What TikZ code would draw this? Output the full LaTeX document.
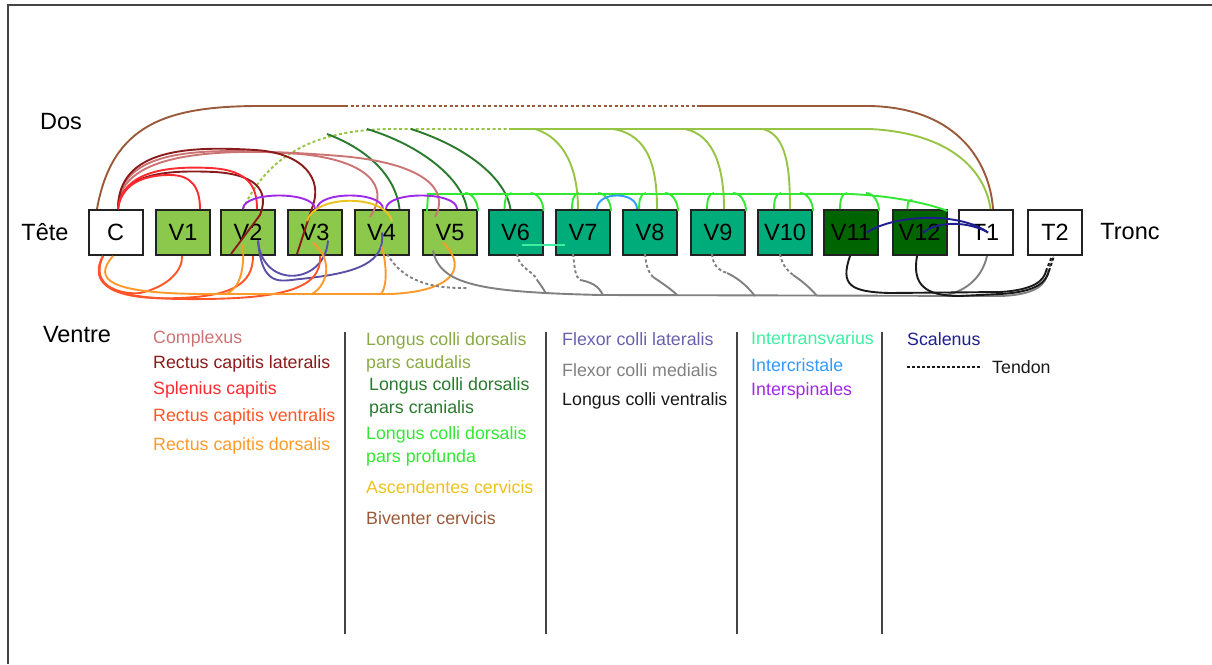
\documentclass[tikz,border=0pt]{standalone}
\usepackage{fontspec}
\setmainfont{Liberation Sans}
\usetikzlibrary{calc}
\definecolor{boxline}{HTML}{222222}
\definecolor{fillA}{HTML}{8CC84B}
\definecolor{fillB}{HTML}{00AD7A}
\definecolor{fillC}{HTML}{006400}
\definecolor{cBiv}{HTML}{9A5A3A}
\definecolor{cCau}{HTML}{96C444}
\definecolor{cCauT}{HTML}{8AAA44}
\definecolor{cCra}{HTML}{2A7A2E}
\definecolor{cPro}{HTML}{33E833}
\definecolor{cCpx}{HTML}{CC7474}
\definecolor{cLat}{HTML}{8B1A1A}
\definecolor{cSpl}{HTML}{FF2A30}
\definecolor{cVen}{HTML}{FF5528}
\definecolor{cDor}{HTML}{FF9A2A}
\definecolor{cIsp}{HTML}{A028E8}
\definecolor{cAsc}{HTML}{EEC21C}
\definecolor{cIcr}{HTML}{3399FF}
\definecolor{cItr}{HTML}{3CF0A0}
\definecolor{cSca}{HTML}{1E1E90}
\definecolor{cFlx}{HTML}{5A50A8}
\definecolor{cFlxT}{HTML}{6A60B0}
\definecolor{cMed}{HTML}{808080}
\definecolor{cLcv}{HTML}{1A1A1A}
\definecolor{frameC}{HTML}{444444}
\begin{document}
\begin{tikzpicture}[x=1pt,y=-1pt,
  bx/.style={draw=boxline, line width=2pt, minimum width=54pt, minimum height=45pt, inner sep=0pt, font=\fontsize{23.5}{28}\selectfont},
  big/.style={font=\fontsize{23.5}{28}\selectfont, inner sep=0pt},
  leg/.style={font=\fontsize{17.8}{21}\selectfont, anchor=west, inner sep=0pt},
  mus/.style={line width=1.9pt},
  tend/.style={dash pattern=on 3pt off 2.5pt},
  biv/.style={mus, draw=cBiv},
  cau/.style={mus, draw=cCau},
  cra/.style={mus, draw=cCra},
  pro/.style={mus, draw=cPro},
  cpx/.style={mus, draw=cCpx},
  lat/.style={mus, draw=cLat},
  spl/.style={mus, draw=cSpl},
  ven/.style={mus, draw=cVen},
  dor/.style={mus, draw=cDor},
  isp/.style={mus, draw=cIsp},
  asc/.style={mus, draw=cAsc},
  icr/.style={mus, draw=cIcr},
  itr/.style={mus, draw=cItr},
  sca/.style={mus, draw=cSca},
  flx/.style={mus, draw=cFlx},
  med/.style={mus, draw=cMed},
  lcv/.style={mus, draw=cLcv},
  sep/.style={line width=2pt, draw=frameC},
]
\useasboundingbox (0,0) rectangle (1212,664);
\draw[line width=2.5pt, draw=frameC] (8,664) -- (8,5) -- (1212,5);

% labels
\node[big] (dos) at (61,122) {Dos};
\node[big] (tete) at (45,232) {Tête};
\node[big] (tronc) at (1130,232) {Tronc};
\node[big] (ventre) at (77,335) {Ventre};

% boxes
\node[bx, fill=white] (C) at (115.5,232.5) {C};
\node[bx, fill=fillA] (V1) at (183,232.5) {V1};
\node[bx, fill=fillA] (V2) at (248,232.5) {V2};
\node[bx, fill=fillA] (V3) at (315,232.5) {V3};
\node[bx, fill=fillA] (V4) at (381.5,232.5) {V4};
\node[bx, fill=fillA] (V5) at (450,232.5) {V5};
\node[bx, fill=fillB] (V6) at (515.5,232.5) {V6};
\node[bx, fill=fillB] (V7) at (583,232.5) {V7};
\node[bx, fill=fillB] (V8) at (650,232.5) {V8};
\node[bx, fill=fillB] (V9) at (718,232.5) {V9};
\node[bx, fill=fillB] (V10) at (785,232.5) {V10};
\node[bx, fill=fillC] (V11) at (851,232.5) {V11};
\node[bx, fill=fillC] (V12) at (919.5,232.5) {V12};
\node[bx, fill=white] (T1) at (985.5,232.5) {T1};
\node[bx, fill=white] (T2) at (1055,232.5) {T2};

% Biventer cervicis
\coordinate (b1) at (345,106);
\coordinate (b2) at (700,106);
\draw[biv] ($(C.north)+(-18.5,0)$) .. controls (112,125) and (165,106) .. (260,106) -- (b1);
\draw[biv, tend] (b1) -- (b2);
\draw[biv] (b2) -- (870,106) .. controls (960,108) and (990,165) .. ($(T1.north)+(7.5,0)$);

% Longus colli dorsalis pars caudalis
\coordinate (o1) at (510,129);
\draw[cau, tend] ($(V2.north)+(-5,0)$) .. controls (268,155) and (315,130) .. (390,129) -- (o1);
\draw[cau] (o1) -- (870,129) .. controls (950,133) and (985,170) .. ($(T1.north)+(5,0)$);
\coordinate (o7) at (535,129);
\coordinate (o8) at (613,129);
\coordinate (o9) at (685,129);
\coordinate (o10) at (763,129);
\draw[cau] (o7) .. controls (565,138) and (578,170) .. ($(V7.north)+(-5,0)$);
\draw[cau] (o8) .. controls (650,135) and (657,170) .. ($(V8.north)+(7,0)$);
\draw[cau] (o9) .. controls (715,135) and (724,170) .. ($(V9.north)+(6,0)$);
\draw[cau] (o10) .. controls (787,135) and (790,170) .. ($(V10.north)+(5,0)$);

% Longus colli dorsalis pars cranialis
\coordinate (cr1) at (327,134);
\coordinate (cr2) at (367,129);
\coordinate (cr3) at (411,129);
\draw[cra] (cr1) .. controls (370,150) and (396,178) .. ($(V4.north)+(18,0)$);
\draw[cra] (cr2) .. controls (420,145) and (462,178) .. ($(V5.north)+(17,0)$);
\draw[cra] (cr3) .. controls (470,148) and (506,180) .. ($(V6.north)+(-5,0)$);

% Longus colli dorsalis pars profunda
\draw[pro] ($(V5.north west)+(5,2)$) -- (428,194) -- (850,194) .. controls (895,196) and (930,204) .. ($(V12.north east)+(0,2)$);
\foreach \n in {V6,V7,V8,V9,V10,V11} {
  \draw[pro] ($(\n.north)+(-4,-16)$) .. controls +(-6,0) and +(0,-7) .. ($(\n.north)+(-11,0)$);
  \draw[pro] ($(\n.north)+(15,-16)$) .. controls +(8,0) and +(0,-8) .. ($(\n.north east)+(0,2)$);
}
\draw[pro] ($(V5.north)+(15,-16)$) .. controls +(8,0) and +(0,-8) .. ($(V5.north east)+(0,2)$);
\draw[pro] ($(V12.north)+(-7,-9)$) .. controls +(-5,0) and +(0,-5) .. ($(V12.north)+(-12,0)$);

% Complexus
\draw[cpx] ($(C.north)+(2.5,0)$) .. controls (118,148) and (200,147) .. (300,154) .. controls (365,160) and (392,185) .. ($(V4.north)+(-11.5,8)$);
\draw[cpx] ($(C.north)+(2.5,0)$) .. controls (118,148) and (230,147) .. (340,156) .. controls (425,163) and (450,190) .. ($(V5.north)+(-15,8)$);

% Rectus capitis lateralis
\draw[lat] ($(C.north)+(2.5,0)$) .. controls (118,148) and (190,146) .. (255,150) .. controls (305,153) and (322,180) .. (313,205) -- ($(V3.south west)+(10,-2)$);
\draw[lat] ($(C.north)+(2.5,0)$) .. controls (120,172) and (170,170) .. (215,172) .. controls (262,175) and (268,195) .. (260,215) -- ($(V2.south west)+(11,-2)$);

% Splenius capitis
\draw[spl] ($(C.north)+(2.5,0)$) .. controls (122,180) and (150,175) .. (170,175) .. controls (192,175) and (200,188) .. ($(V1.north)+(17,0)$);
\draw[spl] ($(C.north)+(2.5,0)$) .. controls (122,170) and (170,166) .. (210,168) .. controls (250,170) and (257,188) .. ($(V2.north)+(9,0)$);

% Interspinales
\draw[isp] ($(V2.north)+(-5,0)$) .. controls +(0,-18) and +(0,-18) .. (V3.north);
\draw[isp] ($(V3.north)+(2,0)$) .. controls +(0,-18) and +(0,-18) .. ($(V4.north)+(1.5,0)$);
\draw[isp] ($(V4.north)+(4.5,0)$) .. controls +(0,-18) and +(0,-18) .. ($(V5.north)+(7,0)$);

% Ascendentes cervicis
\draw[asc] ($(V3.north)+(-8,12)$) .. controls (315,194) and (385,194) .. ($(V4.north)+(10.5,12)$);

% Intercristale
\draw[icr] ($(V7.north)+(14,0)$) .. controls +(0,-18) and +(0,-18) .. ($(V8.north)+(-13,0)$);

% Intertransvarius
\draw[itr] ($(V6.center)+(6.5,12.5)$) -- ($(V7.center)+(-18,12.5)$);

% Scalenus
\draw[sca] ($(V11.center)+(16,0)$) .. controls (895,214) and (960,212) .. ($(T1.center)+(2.5,0)$);
\draw[sca] ($(V12.center)+(3.5,0)$) .. controls (940,220) and (970,222) .. ($(T1.center)+(2.5,0)$);

% Flexor colli lateralis
\draw[flx] ($(V2.center)+(10,8)$) .. controls (262,290) and (325,285) .. ($(V3.center)+(13,8)$);
\draw[flx] ($(V2.center)+(10,8)$) .. controls (262,288) and (280,281) .. (300,279) .. controls (360,273) and (385,262) .. ($(V4.center)+(0.5,0)$);

% Rectus capitis ventralis
\draw[ven] ($(C.south)+(-12.5,0)$) .. controls (85,290) and (125,298) .. (180,299) .. controls (280,300) and (322,290) .. ($(V3.south)+(5,0)$);
\draw[ven] ($(C.south)+(-12.5,0)$) .. controls (88,288) and (125,295) .. (140,293) .. controls (168,287) and (183,270) .. ($(V1.south)+(-1,0)$);
\draw[ven] ($(C.south)+(-12.5,0)$) .. controls (85,292) and (130,300) .. (180,298) .. controls (230,296) and (253,285) .. ($(V2.south)+(5,0)$);

% Rectus capitis dorsalis
\draw[dor] ($(C.south)+(-2.5,0)$) .. controls (92,280) and (110,293) .. (200,294) -- (390,294) .. controls (445,292) and (472,272) .. ($(V5.center)+(-7,10)$);
\coordinate (d2) at (226,294);
\coordinate (d3) at (312,294);
\coordinate (d4) at (381,294);
\draw[dor] ($(V2.center)+(-5,12)$) .. controls (245,278) and (236,290) .. (d2);
\draw[dor] ($(V3.center)+(-2,10)$) .. controls (335,262) and (326,286) .. (d3);
\draw[dor] ($(V4.center)+(0.5,14)$) .. controls (388,272) and (386,288) .. (d4);

% Flexor colli medialis
\coordinate (g4) at (468,288);
\draw[med, tend] ($(V4.south)+(5.5,-2)$) .. controls (400,275) and (420,289) .. (g4);
\coordinate (gT2) at (1048,272);
\draw[med] ($(V5.center)+(-17,18)$) .. controls (440,285) and (480,292) .. (600,295) -- (1000,296) .. controls (1035,295) and (1046,285) .. (gT2);
\draw[med, tend] (gT2) -- ($(T2.south)+(-2,0)$);
\coordinate (g6) at (537,280);
\coordinate (g7) at (580,280);
\coordinate (g8) at (653,277);
\coordinate (g9) at (727,273);
\coordinate (g10) at (793,275);
\draw[med, tend] ($(V6.south)+(1.5,-2)$) .. controls (518,268) and (535,272) .. (g6);
\draw[med] (g6) .. controls (541,285) and (544,290) .. (546,293.5);
\draw[med, tend] ($(V7.south)+(-10,-2)$) .. controls (575,270) and (575,276) .. (g7);
\draw[med] (g7) .. controls (597,283) and (600,290) .. (603,295);
\draw[med, tend] ($(V8.south)+(-5,-2)$) .. controls (646,265) and (648,272) .. (g8);
\draw[med] (g8) .. controls (665,285) and (672,290) .. (677,295);
\draw[med, tend] ($(V9.south)+(-6,-2)$) .. controls (713,265) and (718,270) .. (g9);
\draw[med] (g9) .. controls (742,280) and (750,290) .. (755,296);
\draw[med, tend] ($(V10.south)+(-5,-2)$) .. controls (782,265) and (787,270) .. (g10);
\draw[med] (g10) .. controls (805,283) and (812,290) .. (817,296);
\draw[med] ($(T1.south)+(1.5,0)$) .. controls (982,278) and (965,293) .. (940,296);

% Longus colli ventralis
\coordinate (k1) at (1046,271);
\coordinate (k2) at (1049,271);
\draw[lcv] ($(V11.south)+(-1,0)$) .. controls (840,285) and (850,292) .. (890,293) -- (1000,292) .. controls (1035,290) and (1044,280) .. (k1);
\draw[lcv] ($(V12.south)+(-2.5,0)$) .. controls (912,285) and (925,296) .. (960,296) -- (1000,294) .. controls (1037,292) and (1046,282) .. (k2);
\draw[lcv, tend] (k1) -- ($(T2.south)+(-3,0)$);
\draw[lcv, tend] (k2) -- ($(T2.south)+(-1,0)$);

% legend separators
\draw[sep] (345,332) -- (345,634);
\draw[sep] (546,332) -- (546,634);
\draw[sep] (737,332) -- (737,634);
\draw[sep] (882,332) -- (882,634);

% legend column 1
\node[leg, text=cCpx] (l1) at (153,339) {Complexus};
\node[leg, text=cLat] (l2) at (153,364) {Rectus capitis lateralis};
\node[leg, text=cSpl] (l3) at (153,390) {Splenius capitis};
\node[leg, text=cVen] (l4) at (153,417) {Rectus capitis ventralis};
\node[leg, text=cDor] (l5) at (153,446) {Rectus capitis dorsalis};
% legend column 2
\node[leg, text=cCauT] (l6) at (366,341) {Longus colli dorsalis};
\node[leg, text=cCauT] (l6b) at (366,364) {pars caudalis};
\node[leg, text=cCra] (l7) at (369,386) {Longus colli dorsalis};
\node[leg, text=cCra] (l7b) at (369,409) {pars cranialis};
\node[leg, text=cPro] (l8) at (366,435) {Longus colli dorsalis};
\node[leg, text=cPro] (l8b) at (366,458) {pars profunda};
\node[leg, text=cAsc] (l9) at (366,487) {Ascendentes cervicis};
\node[leg, text=cBiv] (l10) at (366,518) {Biventer cervicis};
% legend column 3
\node[leg, text=cFlxT] (l11) at (562,339) {Flexor colli lateralis};
\node[leg, text=cMed] (l12) at (562,370) {Flexor colli medialis};
\node[leg, text=cLcv] (l13) at (562,401) {Longus colli ventralis};
% legend column 4
\node[leg, text=cItr] (l14) at (751,338) {Intertransvarius};
\node[leg, text=cIcr] (l15) at (751,365) {Intercristale};
\node[leg, text=cIsp] (l16) at (751,391) {Interspinales};
% legend column 5
\node[leg, text=cSca] (l17) at (907,339) {Scalenus};
\coordinate (td1) at (907,367);
\node[leg, text=cLcv] (l18) at (992,367) {Tendon};
\draw[line width=1.6pt, draw=cLcv, dash pattern=on 3pt off 2pt] (td1) -- ($(l18.west)+(-10,0)$);
\end{tikzpicture}
\end{document}
